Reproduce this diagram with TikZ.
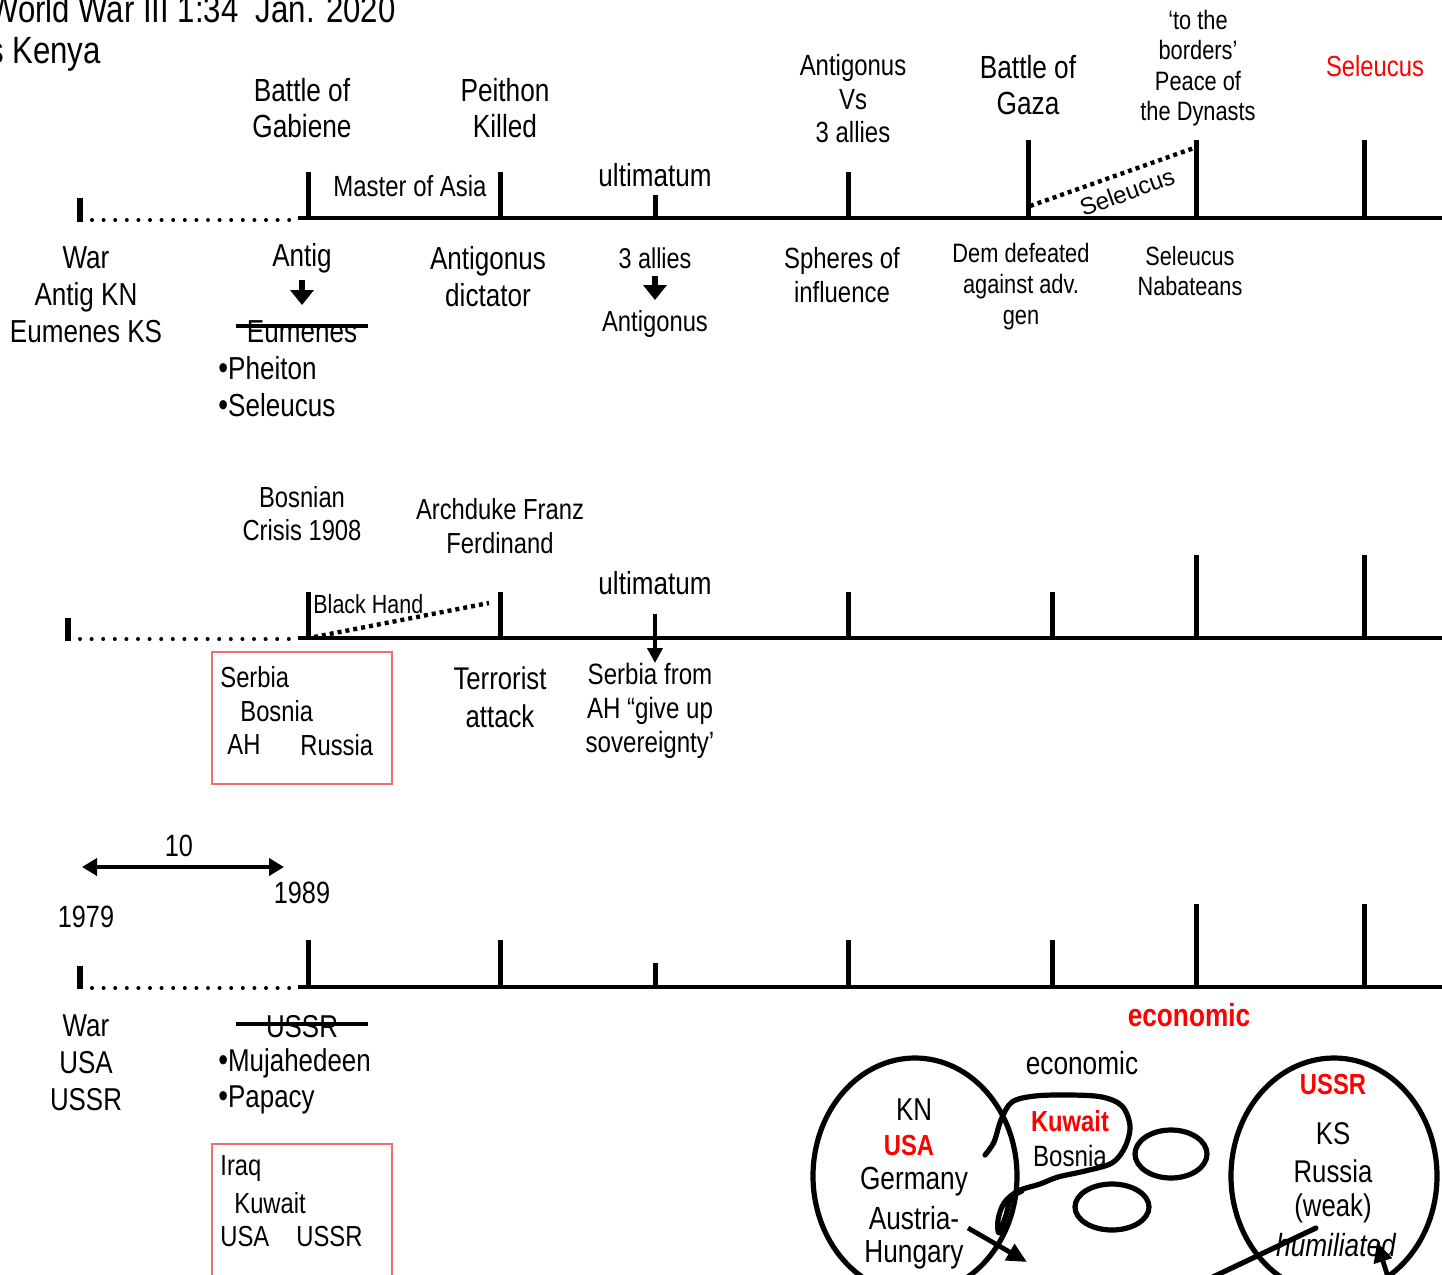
\documentclass[tikz,border=0pt]{standalone}
\usepackage{fontspec}
\setmainfont{Liberation Sans}[FakeStretch=0.82]
\newfontfamily\plainsans{Liberation Sans}
\usetikzlibrary{arrows.meta}
\definecolor{boxred}{RGB}{240,110,110}
\definecolor{pureRed}{RGB}{255,0,0}
\newcommand\fs[2]{\fontsize{#1}{#2}\selectfont}
\begin{document}
\begin{tikzpicture}[x=0.5pt,y=-0.5pt,
 lbl/.style={inner sep=0pt, align=center},
 lw/.style={inner sep=0pt, anchor=west},
 tickline/.style={line width=2.5pt},
 axisline/.style={line width=2.2pt},
 dotline/.style={line width=2pt, line cap=round, dash pattern=on 0pt off 5.8pt},
 sqdots/.style={line width=2.2pt, dash pattern=on 2pt off 2pt},
 redbox/.style={draw=boxred, line width=0.7pt},
 strikeline/.style={line width=2pt},
 bigarrow/.style={line width=3pt, -{Triangle[width=11.5pt,length=7.5pt]}},
 midarrow/.style={line width=2pt, -{Triangle[width=7.5pt,length=7.5pt]}},
 dblarrow/.style={line width=2pt, {Triangle[width=8.5pt,length=7.5pt]}-{Triangle[width=8.5pt,length=7.5pt]}},
 penline/.style={line width=2.6pt, line cap=round, line join=round},
 penarrow/.style={line width=2.4pt, -{Triangle[width=9pt,length=10pt]}},
 redtxt/.style={text=pureRed, font=\fs{14.5}{17}\bfseries}
]
\useasboundingbox (0,0) rectangle (1442,1275);
\clip (0,0) rectangle (1442,1275);

% ---------- title ----------
\node[inner sep=0pt, anchor=base east, font=\fs{19}{20}] (title1) at (396,22) {World War III 1:34\ \ Jan. 2020};
\node[inner sep=0pt, anchor=base east, font=\fs{19}{20}] (title2) at (101,63) {s Kenya};

% ---------- timeline 1 ----------
\draw[line width=3pt] (80,198) -- (80,222);
\draw[dotline] (92,220) -- (296,220);
\draw[axisline] (298,218) -- (1442,218);
\draw[tickline] (308,172) -- (308,219);
\draw[tickline] (500,172) -- (500,219);
\draw[tickline] (655,195) -- (655,219);
\draw[tickline] (848,172) -- (848,219);
\draw[tickline] (1028,140) -- (1028,219);
\draw[tickline] (1196,140) -- (1196,219);
\draw[tickline] (1364,140) -- (1364,219);
\coordinate (selA) at (1030,206);
\coordinate (selB) at (1194,148);
\draw[sqdots] (selA) -- (selB);
\node[inner sep=0pt, rotate=20, font=\plainsans\fs{12}{13}] (seltxt) at (1127,192) {Seleucus};

\node[lbl, font=\fs{16}{18}] (gab) at (302,108) {Battle of\\Gabiene};
\node[lbl, font=\fs{16}{18}] (pei) at (505,108) {Peithon\\Killed};
\node[lbl, font=\fs{14.6}{17}] (master) at (410,186) {Master of Asia};
\node[lbl, font=\fs{15.9}{18}] (ult1) at (655,175) {ultimatum};
\node[lbl, font=\fs{14.6}{16.75}] (antvs) at (853,99) {Antigonus\\Vs\\3 allies};
\node[lbl, font=\fs{16}{18}] (gaza) at (1028,85) {Battle of\\Gaza};
\node[lbl, font=\fs{13.3}{15.2}] (dyn) at (1198,68) {‘to the\\borders’\\Peace of\\the Dynasts};
\node[lbl, font=\fs{14.5}{17}, text=pureRed] (selred) at (1375,66) {Seleucus};

\node[lbl, font=\fs{15.9}{18.5}] (war1) at (86,295) {War\\Antig KN\\Eumenes KS};
\node[lbl, font=\fs{15.9}{18.5}] (antig) at (302,258) {Antig};
\coordinate (aA) at (302,280);
\coordinate (aB) at (302,305);
\draw[bigarrow] (aA) -- (aB);
\node[lbl, font=\fs{15.9}{18.5}] (eum) at (302,332) {Eumenes};
\coordinate (eS1) at (236,326);
\coordinate (eS2) at (368,326);
\draw[strikeline] (eS1) -- (eS2);
\node[lw, font=\fs{15.9}{18.5}] (phe) at (218,368) {{\fs{17}{18.5}•}Pheiton};
\node[lw, font=\fs{15.9}{18.5}] (sel2) at (218,405) {{\fs{17}{18.5}•}Seleucus};
\node[lbl, font=\fs{15.9}{18.5}] (dict) at (488,277) {Antigonus\\dictator};
\node[lbl, font=\fs{14.3}{17}] (allies) at (655,258) {3 allies};
\coordinate (bA) at (655,276);
\coordinate (bB) at (655,300);
\draw[bigarrow] (bA) -- (bB);
\node[lbl, font=\fs{14.5}{17}] (antlow) at (655,324) {Antigonus};
\node[lbl, font=\fs{14.6}{17}] (sph) at (842,275) {Spheres of\\influence};
\node[lbl, font=\fs{13.3}{15.5}] (dem) at (1021,287) {Dem defeated\\against adv.\\gen};
\node[lbl, font=\fs{13.2}{15}] (seln) at (1190,271) {Seleucus\\Nabateans};

% ---------- timeline 2 ----------
\draw[line width=3pt] (68,618) -- (68,641);
\draw[dotline] (80,639) -- (296,639);
\draw[axisline] (298,638) -- (1442,638);
\draw[tickline] (308,592) -- (308,639);
\draw[tickline] (500,592) -- (500,639);
\draw[tickline] (848,592) -- (848,639);
\draw[tickline] (1052,592) -- (1052,639);
\draw[tickline] (1196,555) -- (1196,639);
\draw[tickline] (1364,555) -- (1364,639);
\coordinate (cA) at (655,614);
\coordinate (cB) at (655,663);
\draw[midarrow] (cA) -- (cB);
\coordinate (bhA) at (314,637);
\coordinate (bhB) at (489,603);
\draw[sqdots] (bhA) -- (bhB);
\node[lw, font=\fs{13.1}{15}] (bh) at (313,604) {Black Hand};

\node[lbl, font=\fs{14.5}{16.5}] (bos) at (302,514) {Bosnian\\Crisis 1908};
\node[lbl, font=\fs{14.5}{17}] (arch) at (500,526) {Archduke Franz\\Ferdinand};
\node[lbl, font=\fs{15.9}{18}] (ult2) at (655,583) {ultimatum};
\draw[redbox] (212,652) rectangle (392,784);
\node[lw, font=\fs{14.5}{17}] (b1a) at (220,677) {Serbia};
\node[lw, font=\fs{14.5}{17}] (b1b) at (240,711) {Bosnia};
\node[lw, font=\fs{14.5}{17}] (b1c) at (227,745) {AH};
\node[lw, font=\fs{14.5}{17}] (b1d) at (300,745) {Russia};
\node[lbl, font=\fs{15.7}{19}] (terr) at (500,697) {Terrorist\\attack};
\node[lbl, font=\fs{14.7}{17}] (serb) at (650,711) {Serbia from\\AH “give up\\sovereignty’};

% ---------- timeline 3 ----------
\coordinate (dA) at (82,867);
\coordinate (dB) at (284,867);
\draw[dblarrow] (dA) -- (dB);
\node[lbl, font=\fs{15.4}{18}] (ten) at (179,846) {10};
\node[lbl, font=\fs{15.4}{18}] (y79) at (86,917) {1979};
\node[lbl, font=\fs{15.4}{18}] (y89) at (302,893) {1989};
\draw[line width=3pt] (80,966) -- (80,989);
\draw[dotline] (92,988) -- (296,988);
\draw[axisline] (298,987) -- (1442,987);
\draw[tickline] (308,940) -- (308,988);
\draw[tickline] (500,940) -- (500,988);
\draw[tickline] (655,963) -- (655,988);
\draw[tickline] (848,940) -- (848,988);
\draw[tickline] (1052,940) -- (1052,988);
\draw[tickline] (1196,904) -- (1196,988);
\draw[tickline] (1364,904) -- (1364,988);

\node[lbl, font=\fs{15.8}{18.5}] (war3) at (86,1063) {War\\USA\\USSR};
\node[lbl, font=\fs{15.8}{18.5}] (ussr) at (302,1027) {USSR};
\coordinate (uS1) at (236,1024);
\coordinate (uS2) at (368,1024);
\draw[strikeline] (uS1) -- (uS2);
\node[lw, font=\fs{15.8}{18.5}] (muj) at (218,1063) {{\fs{17}{18.5}•}Mujahedeen};
\node[lw, font=\fs{15.8}{18.5}] (pap) at (218,1100) {{\fs{17}{18.5}•}Papacy};
\draw[redbox] (212,1144) rectangle (392,1300);
\node[lw, font=\fs{14.5}{17}] (b2a) at (220,1169) {Iraq};
\node[lw, font=\fs{14.5}{17}] (b2b) at (234,1203) {Kuwait};
\node[lw, font=\fs{14.5}{17}] (b2c) at (220,1237) {USA};
\node[lw, font=\fs{14.5}{17}] (b2d) at (296,1237) {USSR};

\node[lbl, font=\fs{16}{18}\bfseries, text=pureRed] (econr) at (1189,1015) {economic};
\node[lbl, font=\fs{16}{18}] (econ) at (1082,1063) {economic};

% circles
\draw[penline] (915,1176) ellipse [x radius=51pt, y radius=59pt];
\draw[penline] (1334,1176) ellipse [x radius=51.5pt, y radius=59pt];
\draw[penline] (1171,1154) ellipse [x radius=18pt, y radius=12pt];
\draw[penline] (1112,1207) ellipse [x radius=18.5pt, y radius=11.5pt];
\draw[penline] plot[smooth, tension=0.55] coordinates {(985,1155) (994,1142) (1001,1120) (1012,1102) (1035,1096) (1070,1095) (1102,1097) (1122,1106) (1130,1126) (1125,1147) (1112,1163) (1085,1171) (1058,1177) (1040,1184) (1018,1191) (1004,1203) (998,1220) (999,1233) (1006,1215) (1011,1198) (1022,1191)};

\node[lbl, font=\fs{15.8}{18}] (kn) at (914,1110) {KN};
\node[lbl, redtxt] (usa) at (909,1146) {USA};
\node[lbl, font=\fs{16}{18}] (ger) at (914,1182) {Germany};
\node[lbl, font=\fs{16}{18}] (aus) at (914,1218) {Austria-};
\node[lbl, font=\fs{16}{18}] (hun) at (914,1255) {Hungary};
\node[lbl, redtxt] (kuw) at (1070,1121) {Kuwait};
\node[lbl, font=\fs{14.7}{17}] (bosn) at (1070,1156) {Bosnia};
\node[lbl, redtxt] (ussrr) at (1333,1085) {USSR};
\node[lbl, font=\fs{15.7}{18}] (ks) at (1333,1134) {KS};
\node[lbl, font=\fs{15.7}{18}] (rus) at (1333,1171) {Russia};
\node[lbl, font=\fs{15.7}{18}] (weak) at (1333,1208) {(weak)};
\node[lbl, font=\fs{16}{18}\itshape] (hum) at (1336,1245) {humiliated};

\coordinate (eA) at (968,1228);
\coordinate (eB) at (1027,1262);
\draw[penarrow] (eA) -- (eB);
\coordinate (fA) at (1316,1228);
\coordinate (fB) at (1196,1285);
\draw[penline] (fA) -- (fB);
\coordinate (gA) at (1392,1290);
\coordinate (gB) at (1377,1242);
\draw[penarrow] (gA) -- (gB);
\end{tikzpicture}
\end{document}
